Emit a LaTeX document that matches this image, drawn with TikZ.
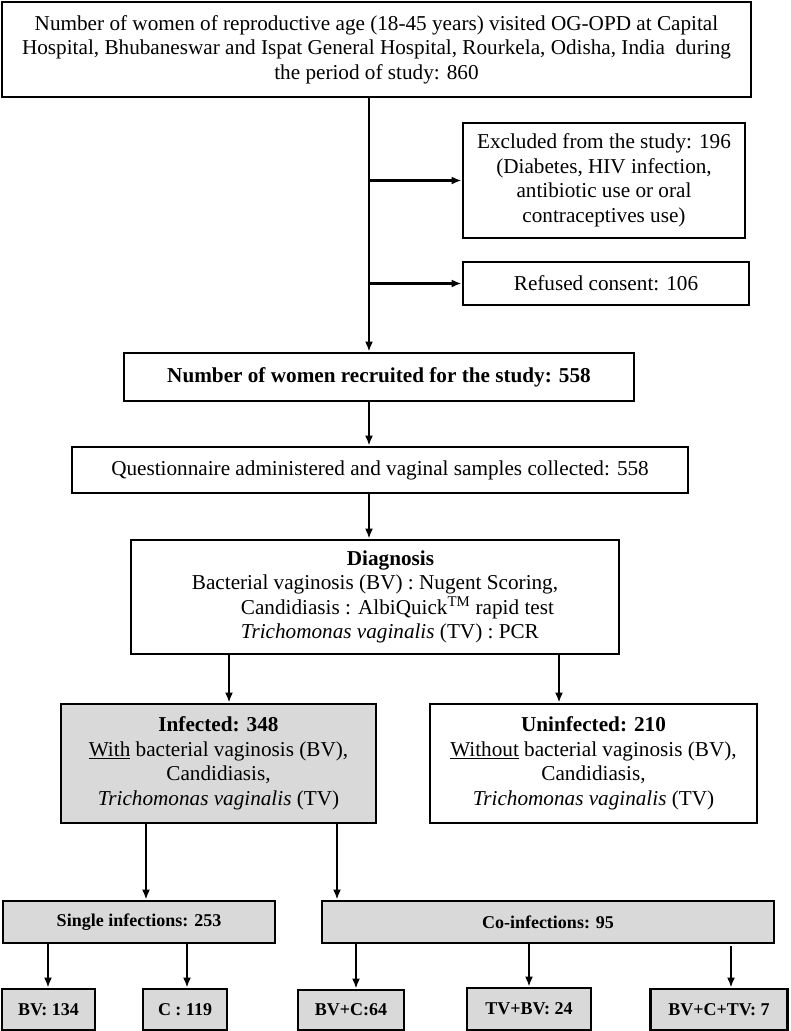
\documentclass[tikz,border=0pt]{standalone}
\usepackage{fontspec}
\setmainfont{Liberation Serif}
\usepackage{xcolor}
\definecolor{boxgray}{RGB}{217,217,217}
\usetikzlibrary{arrows.meta}

\begin{document}
\begin{tikzpicture}[x=1pt, y=-1pt, >={Latex[length=10pt,width=8pt]},
    stepbox/.style={draw=black, line width=2.8pt, inner sep=0pt, align=center, font=\fontsize{21.2}{24.5}\selectfont},
    graybox/.style={stepbox, fill=boxgray},
    countbox/.style={graybox, minimum height=42pt, font=\fontsize{18}{21}\selectfont\bfseries},
    flow/.style={->, line width=2.2pt}]

    \useasboundingbox (0,0) rectangle (790,1031);

    % main column
    \node[stepbox, minimum width=749pt, minimum height=95pt] (visit) at (376.5,49.5) {Number of women of reproductive age (18-45 years) visited OG-OPD at Capital\\Hospital, Bhubaneswar and Ispat General Hospital, Rourkela, Odisha, India\ \ during\\the period of study: 860};
    \node[stepbox, minimum width=282pt, minimum height=115pt] (excl) at (604,180.5) {Excluded from the study: 196\\(Diabetes, HIV infection,\\antibiotic use or oral\\contraceptives use)};
    \node[stepbox, minimum width=286pt, minimum height=43pt] (refused) at (606,283.5) {Refused consent: 106};
    \node[stepbox, minimum width=510pt, minimum height=48pt] (recruit) at (379,377) {\textbf{Number of women recruited for the study: 558}};
    \node[stepbox, minimum width=616pt, minimum height=46pt] (quest) at (380,470) {Questionnaire administered and vaginal samples collected: 558};
    \node[stepbox, minimum width=488pt, minimum height=114pt, align=left] (diag) at (375,597) {\hspace*{155pt}\textbf{Diagnosis}\\Bacterial vaginosis (BV) : Nugent Scoring,\\\hspace*{49pt}Candidiasis : AlbiQuick\textsuperscript{TM} rapid test\\\hspace*{49pt}\textit{Trichomonas vaginalis} (TV) : PCR};

    % infection status
    \node[graybox, minimum width=315pt, minimum height=119pt] (inf) at (218.5,763.5) {\textbf{Infected: 348}\\\underline{With} bacterial vaginosis (BV),\\Candidiasis,\\\textit{Trichomonas vaginalis} (TV)};
    \node[stepbox, minimum width=327pt, minimum height=119pt] (uninf) at (593.5,763.5) {\textbf{Uninfected: 210}\\\underline{Without} bacterial vaginosis (BV),\\Candidiasis,\\\textit{Trichomonas vaginalis} (TV)};

    % infection types
    \node[countbox, minimum width=272pt] (single) at (139,922) {Single infections: 253};
    \node[countbox, minimum width=452pt] (coinf) at (548,922) {Co-infections: 95};
    \node[countbox, minimum width=93pt, minimum height=41pt] (bv) at (48.5,1009.5) {BV: 134};
    \node[countbox, minimum width=84pt, minimum height=41pt] (c) at (185,1009.5) {C : 119};
    \node[countbox, minimum width=106pt, minimum height=40pt] (bvc) at (351,1010) {\raisebox{-3pt}{BV+C:64}};
    \node[countbox, minimum width=124pt, minimum height=42pt] (tvbv) at (529,1009) {TV+BV: 24};
    \node[countbox, minimum width=137pt, minimum height=41pt] (bvctv) at (719,1009.5) {BV+C+TV: 7};

    % arrow columns
    \coordinate (spine) at (369,0);
    \coordinate (toInf) at (229,0);
    \coordinate (toUninf) at (559,0);
    \coordinate (toSingle) at (146,0);
    \coordinate (toCo) at (337,0);
    \coordinate (toBV) at (48,0);
    \coordinate (toC) at (187,0);
    \coordinate (toBVC) at (356,0);
    \coordinate (toTVBV) at (529,0);
    \coordinate (toBVCTV) at (731,0);

    \draw[flow] (spine |- visit.south) -- (spine |- recruit.north);
    \draw[flow] (spine |- excl.west) -- (excl.west);
    \draw[flow] (spine |- refused.west) -- (refused.west);
    \draw[flow] (spine |- recruit.south) -- (spine |- quest.north);
    \draw[flow] (spine |- quest.south) -- (spine |- diag.north);

    \draw[flow] (toInf |- diag.south) -- (toInf |- inf.north);
    \draw[flow] (toUninf |- diag.south) -- (toUninf |- uninf.north);
    \draw[flow] (toSingle |- inf.south) -- (toSingle |- single.north);
    \draw[flow] (toCo |- inf.south) -- (toCo |- coinf.north);

    \draw[flow] (toBV |- single.south) -- (toBV |- bv.north);
    \draw[flow] (toC |- single.south) -- (toC |- c.north);
    \draw[flow] (toBVC |- coinf.south) -- (toBVC |- bvc.north);
    \draw[flow] (toTVBV |- coinf.south) -- (toTVBV |- tvbv.north);
    \draw[flow] ([yshift=-2pt]toBVCTV |- coinf.south) -- (toBVCTV |- bvctv.north);

\end{tikzpicture}
\end{document}
